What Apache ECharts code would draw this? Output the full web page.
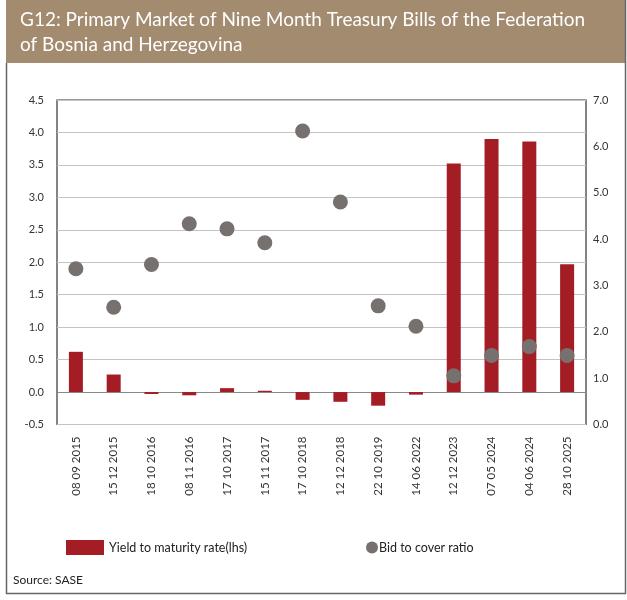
<!DOCTYPE html>
<html>
<head>
<meta charset="utf-8">
<script src="https://cdn.jsdelivr.net/npm/echarts@6/dist/echarts.min.js"></script>
<style>
html,body{margin:0;padding:0;background:#fff;}
#c{width:627px;height:600px;}
</style>
</head>
<body>
<div id="c"></div>
<script>
const categories = ['08 09 2015','15 12 2015','18 10 2016','08 11 2016','17 10 2017','15 11 2017','17 10 2018','12 12 2018','22 10 2019','14 06 2022','12 12 2023','07 05 2024','04 06 2024','28 10 2025'];
const yieldRate = [0.62, 0.27, -0.03, -0.05, 0.06, 0.02, -0.12, -0.15, -0.21, -0.04, 3.52, 3.90, 3.86, 1.97];
const bidToCover = [3.36, 2.53, 3.45, 4.33, 4.22, 3.92, 6.33, 4.80, 2.56, 2.12, 1.05, 1.49, 1.68, 1.49];
const titleLines = ['G12: Primary Market of Nine Month Treasury Bills of the Federation', 'of Bosnia and Herzegovina'];
const seriesNames = ['Yield to maturity rate(lhs)', 'Bid to cover ratio'];
const sourceText = 'Source: SASE';

const FONT = 'Lato, "Open Sans", sans-serif';
const chart = echarts.init(document.getElementById('c'), null, {renderer: 'canvas'});
chart.setOption({
  animation: false,
  backgroundColor: '#fff',
  textStyle: {fontFamily: FONT},
  graphic: [
    {type: 'rect', shape: {x: 6, y: 0, width: 619, height: 63}, style: {fill: '#a38b70'}, z: 0},
    {type: 'polyline', shape: {points: [[6.5, 63], [6.5, 593.5], [625.5, 593.5], [625.5, 0]]}, style: {stroke: '#666', lineWidth: 1.5, fill: null}, z: 0},
    {type: 'text', left: 20, top: 7, style: {text: titleLines.join('\n'), fill: '#fff', font: '19px ' + FONT, lineHeight: 25}},
    {type: 'text', left: 13, top: 574, style: {text: sourceText, fill: '#222', font: '12px ' + FONT}}
  ],
  grid: {left: 57, right: 41, top: 100, bottom: 175.5, show: true, borderColor: '#333', borderWidth: 1.2, backgroundColor: 'transparent'},
  legend: [
    {data: [seriesNames[0]], left: 66, top: 540, padding: 0, itemWidth: 38, itemHeight: 15, icon: 'rect', textStyle: {fontSize: 12.5, color: '#222', fontFamily: FONT}},
    {data: [seriesNames[1]], left: 366, top: 541, padding: 0, itemWidth: 12, itemHeight: 12, icon: 'circle', textStyle: {fontSize: 12.5, color: '#222', fontFamily: FONT, padding: [0,0,0,-4]}}
  ],
  xAxis: {
    type: 'category', data: categories,
    axisLine: {show: false}, axisTick: {show: false},
    axisLabel: {rotate: 90, margin: 12, fontSize: 11.5, color: '#333', fontFamily: FONT}
  },
  yAxis: [
    {type: 'value', min: -0.5, max: 4.5, interval: 0.5, position: 'left',
     axisLine: {show: false}, axisTick: {show: false},
     axisLabel: {margin: 13, fontSize: 11, color: '#333', formatter: v => v.toFixed(1), fontFamily: FONT},
     splitLine: {lineStyle: {color: '#c4c4c4', width: 1.2}}},
    {type: 'value', min: 0, max: 7, interval: 1, position: 'right',
     axisLine: {show: false}, axisTick: {show: false},
     axisLabel: {margin: 7, fontSize: 11, color: '#333', formatter: v => v.toFixed(1), fontFamily: FONT},
     splitLine: {show: false}}
  ],
  series: [
    {name: seriesNames[0], type: 'bar', data: yieldRate, barWidth: 14, itemStyle: {color: '#a51d24'},
     markLine: {silent: true, symbol: 'none', label: {show: false}, lineStyle: {color: '#8a8a8a', width: 1.2, type: 'solid'}, data: [{yAxis: 0}], z: 1}},
    {name: seriesNames[1], type: 'scatter', yAxisIndex: 1, data: bidToCover, symbolSize: 15, itemStyle: {color: '#76716f', opacity: 1}, z: 3}
  ]
});
</script>
</body>
</html>
